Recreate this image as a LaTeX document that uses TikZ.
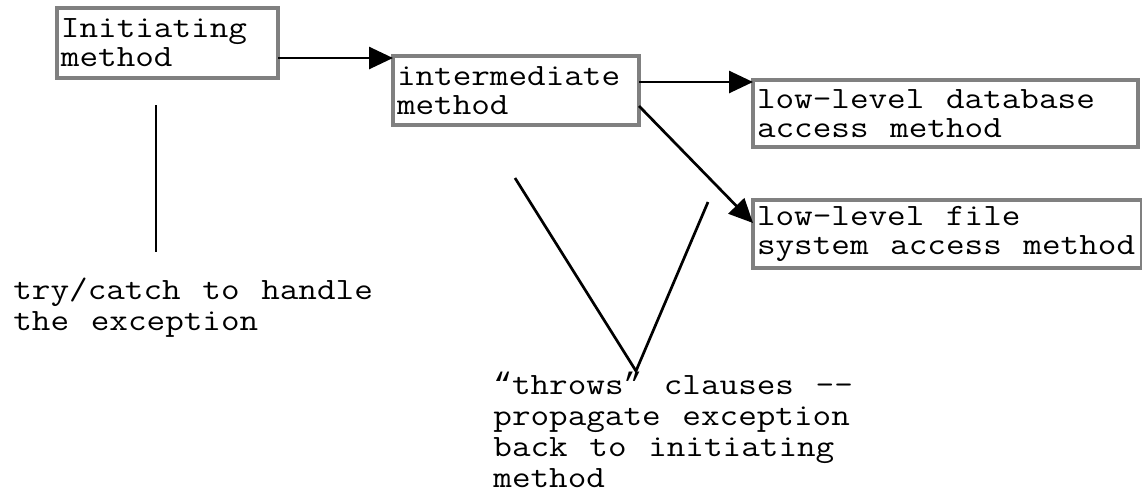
\documentclass[tikz,border=0pt]{standalone}
\usepackage{fontspec}
\newfontfamily\codefont{Latin Modern Mono}[FakeStretch=1.165, WordSpace={1.165,0,0}]
\newfontfamily\quotefont{Liberation Mono}
\usetikzlibrary{arrows.meta, positioning}
\definecolor{boxgray}{RGB}{128,128,128}
\tikzset{
    method/.style={
        rectangle, draw=boxgray, line width=2.4pt, outer sep=0pt, inner xsep=2pt, inner ysep=0pt, anchor=north west, align=left, font=\codefont\fontsize{15.5}{14.5}\selectfont, execute at begin node={\spaceskip=0pt\xspaceskip=0pt\relax}
    },
    note/.style={
        anchor=base west, inner sep=0pt, align=left, font=\codefont\fontsize{15.5}{15.5}\selectfont
    },
    arrow/.style={
        line width=1.35pt, -{Triangle[length=12pt, width=11pt]}
    },
    leader/.style={
        line width=1.35pt
    }
}

\begin{document}
\begin{tikzpicture}[x=0.5pt, y=-0.5pt]

    \useasboundingbox (0,0) rectangle (1142,494);

    % Methods
    \node[method, minimum width=110.5pt, text width=106.5pt, minimum height=35pt] (init) at (57,8) {Initiating\\method};
    \node[method, minimum width=123pt, text width=119pt, minimum height=34.5pt] (mid) at (393,56) {intermediate\\method};
    \node[method, minimum width=192.5pt, text width=188.5pt, minimum height=33.5pt] (db) at (753,80) {low-level database\\access method};
    \node[method, minimum width=194.5pt, text width=190.5pt, minimum height=34pt, below=26.5pt of db.south west, anchor=north west] (fs) {low-level file\\system access method};

    % Notes (placed at the last line)
    \node[note] (catch) at (13,330) {try/catch to handle\\the exception};
    \node[note] (throws) at (493,487) {{\quotefont “}throws{\quotefont ”} clauses {-}{-}\\propagate exception\\back to initiating\\method};

    % Calls
    \coordinate (initout) at ([yshift=-7.5pt]init.east);
    \coordinate (midout) at ([yshift=4.25pt]mid.east);
    \draw[arrow] (initout) -- (initout -| mid.west);
    \draw[arrow] (midout) -- (midout -| db.west);
    \draw[arrow] ([yshift=-7.75pt]mid.east) -- ([yshift=5.5pt]fs.west);

    % Pointers to the notes
    \coordinate (catchtop) at (156,105);
    \coordinate (catchend) at (156,252);
    \coordinate (vleft) at (515,178);
    \coordinate (vapex) at (636,371);
    \coordinate (vright) at (708,202);
    \draw[leader] (catchtop) -- (catchend);
    \draw[leader] (vleft) -- (vapex) -- (vright);

\end{tikzpicture}
\end{document}
